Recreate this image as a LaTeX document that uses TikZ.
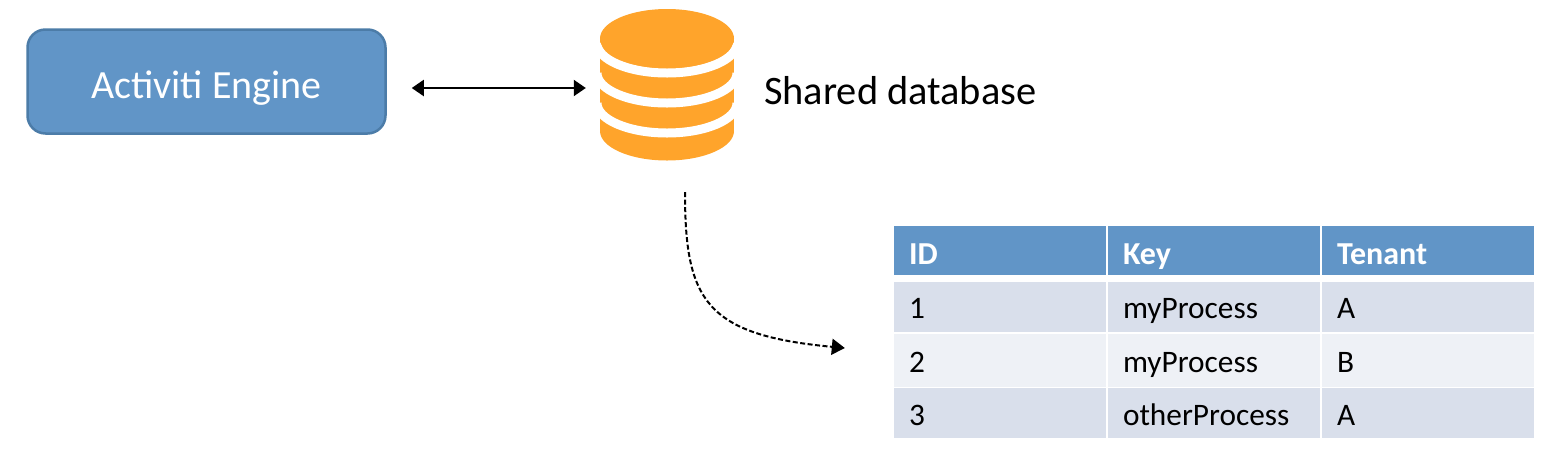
\documentclass[tikz,border=0pt]{standalone}
\usepackage{fontspec}
\setmainfont{Carlito}
\usetikzlibrary{arrows.meta}
\definecolor{tableblue}{HTML}{6195C7}
\definecolor{edgeblue}{HTML}{4C7CA8}
\definecolor{dborange}{HTML}{FFA42B}
\definecolor{rowdark}{HTML}{D9DFEB}
\definecolor{rowlight}{HTML}{EEF1F6}
\tikzset{
  enginebox/.style={draw=edgeblue,fill=tableblue,line width=2.5pt,rounded corners=18pt,
    minimum width=358pt,minimum height=104pt,text=white,text height=33pt,text depth=0pt,
    font=\fontsize{40}{44}\selectfont},
  cell/.style={text width=182pt,inner xsep=15pt,inner ysep=0pt,align=left,
    text height=24pt,text depth=0pt,font=\fontsize{31.3}{34}\selectfont},
  headcell/.style={cell,fill=tableblue,text=white,minimum height=49pt,text height=29pt,
    font=\fontsize{32}{34}\selectfont\bfseries},
  darkcell/.style={cell,fill=rowdark,minimum height=50pt},
  lightcell/.style={cell,fill=rowlight,minimum height=53pt},
  linkarrow/.style={line width=2pt,{Triangle[length=12pt,width=16pt]}-{Triangle[length=12pt,width=16pt]}},
  curvearrow/.style={line width=2pt,dash pattern=on 5pt off 2.5pt,-{Triangle[length=13pt,width=16pt]}}
}
\begin{document}
\begin{tikzpicture}[x=1pt,y=-1pt]
            \useasboundingbox (0,0) rectangle (1552,456);

            \node[enginebox] (engine) at (206.5,81.5) {Activiti Engine};
            \node[minimum width=134pt,minimum height=152pt,inner sep=0pt] (db) at (667,85) {};
            \node[anchor=west,inner sep=0pt,font=\fontsize{40.4}{44}\selectfont] (dblabel) at (764,91) {Shared database};

            % database icon
            \fill[dborange] (600,38.5) rectangle (734,131);
            \fill[dborange] (667,131) ellipse [x radius=67,y radius=29.5];
            \draw[white,line width=9pt] (597,43) arc [start angle=180,end angle=0,x radius=70,y radius=30];
            \draw[white,line width=9pt] (597,73) arc [start angle=180,end angle=0,x radius=70,y radius=30];
            \draw[white,line width=9pt] (597,103) arc [start angle=180,end angle=0,x radius=70,y radius=30];
            \fill[dborange] (667,38.5) ellipse [x radius=67,y radius=29.5];

            % table
            \node[headcell] (h1) at (1000,250) {ID};
            \node[headcell] (h2) at (1214,250) {Key};
            \node[headcell] (h3) at (1428,250) {Tenant};
            \node[darkcell] (a1) at (1000,306.5) {1};
            \node[darkcell] (a2) at (1214,306.5) {myProcess};
            \node[darkcell] (a3) at (1428,306.5) {A};
            \node[lightcell] (b1) at (1000,360) {2};
            \node[lightcell] (b2) at (1214,360) {myProcess};
            \node[lightcell] (b3) at (1428,360) {B};
            \node[darkcell] (c1) at (1000,413) {3};
            \node[darkcell] (c2) at (1214,413) {otherProcess};
            \node[darkcell] (c3) at (1428,413) {A};

            \path[linkarrow,shorten <=25pt,shorten >=14pt] ([yshift=-6.5pt]engine.east) edge ([yshift=-3pt]db.west);
            \draw[curvearrow] ([xshift=18pt,yshift=-31pt]db.south) .. controls (685,300) and (705,335) .. ([xshift=-49pt,yshift=12pt]b1.west);
        \end{tikzpicture}
\end{document}
